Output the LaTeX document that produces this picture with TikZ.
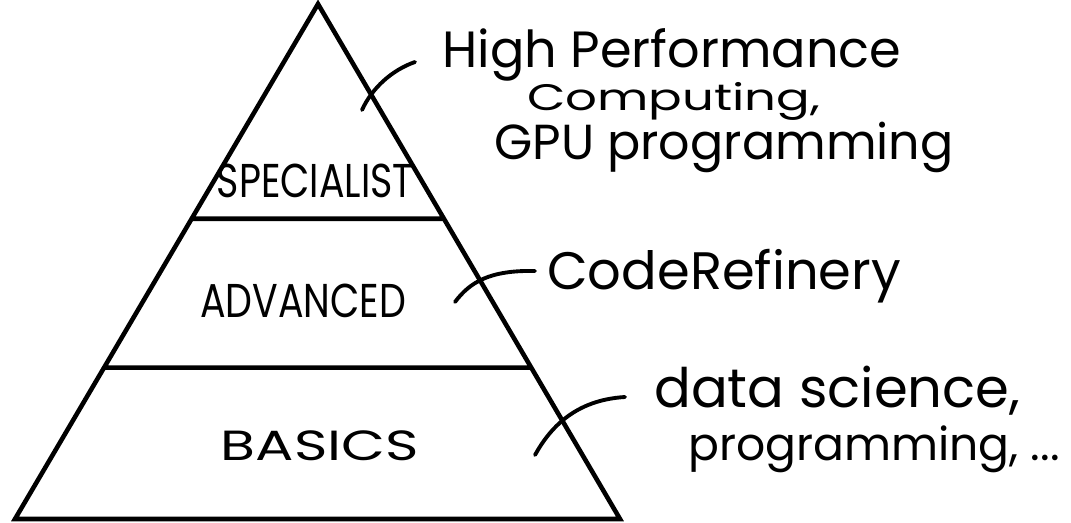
\documentclass[tikz,border=0pt]{standalone}
\usepackage{fontspec}
\setmainfont{Poppins}
\newfontfamily\narrowhand[FakeStretch=.8]{Poppins}
\newfontfamily\widehand[FakeStretch=1.35]{Poppins}
\usetikzlibrary{calc}
\begin{document}
\begin{tikzpicture}[x=.02cm,y=-.02cm,line width=2.6pt,
  lab/.style={font=\fontsize{28}{30}\selectfont,inner sep=0pt,anchor=base west},
  tier/.style={font=\narrowhand\fontsize{27}{30}\selectfont,inner sep=0pt}]
\useasboundingbox (0,0) rectangle (1071,523);
\coordinate(T)at(318,4);
\coordinate(L)at(15,519);
\coordinate(R)at(620,519);
\coordinate(A)at($(T)!.417!(L)$);
\coordinate(B)at($(T)!.417!(R)$);
\coordinate(C)at($(T)!.706!(L)$);
\coordinate(D)at($(T)!.706!(R)$);
\draw (T)--(L)--(R)--cycle (A)--(B) (C)--(D);
\node[tier](S)at(315,181){SPECIALIST};
\node[tier](Ad)at(303,301){ADVANCED};
\node[tier,font=\widehand\fontsize{24}{26}\selectfont](Ba)at(320,446){BASICS};
\node[lab,font=\fontsize{29}{30}\selectfont](H1)at(440,68){High Performance};
\node[lab,font=\widehand\fontsize{21}{24}\selectfont](H2)at(525,111){Computing,};
\node[lab](H3)at(492,160){GPU programming};
\node[lab,font=\fontsize{30}{32}\selectfont](CR)at(545,290){CodeRefinery};
\node[lab,font=\fontsize{31}{32}\selectfont](D1)at(652,407){data science,};
\node[lab,font=\fontsize{26}{28}\selectfont](D2)at(686,460){programming, ...};
\coordinate(E1)at(362,110);\coordinate(F1)at(415,62);
\coordinate(E2)at(455,302);\coordinate(F2)at(535,271);
\coordinate(E3)at(535,455);\coordinate(F3)at(625,397);
\draw[line width=2.2pt,line cap=round] (E1)..controls(372,88)and(392,70)..(F1)
  (E2)..controls(470,282)and(490,270)..(F2)
  (E3)..controls(550,428)and(575,400)..(F3);
\end{tikzpicture}
\end{document}
